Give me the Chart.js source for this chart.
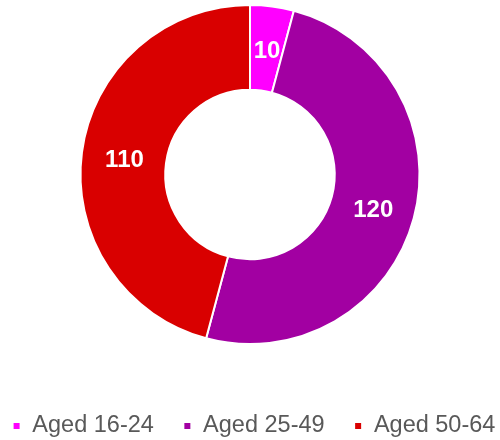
<!DOCTYPE html>
<html>
<head>
<meta charset="utf-8">
<script src="https://cdn.jsdelivr.net/npm/chart.js@4/dist/chart.umd.min.js"></script>
<style>
  html, body { margin: 0; padding: 0; background: #ffffff; }
  #c { display: block; }
</style>
</head>
<body>
<canvas id="c" width="500" height="440"></canvas>
<script>
const categories = ['Aged 16-24', 'Aged 25-49', 'Aged 50-64'];
const values = [10, 120, 110];
const colors = ['#FF00FF', '#A200A2', '#D90000'];

const FONT = "'Liberation Sans', Arial, sans-serif";

const sliceLabels = {
  id: 'sliceLabels',
  afterDatasetsDraw(chart) {
    const ctx = chart.ctx;
    const meta = chart.getDatasetMeta(0);
    ctx.save();
    ctx.fillStyle = '#FFFFFF';
    ctx.font = 'bold 24px ' + FONT;
    ctx.textAlign = 'center';
    ctx.textBaseline = 'middle';
    meta.data.forEach((arc, i) => {
      const p = arc.tooltipPosition();
      ctx.fillText(String(values[i]), p.x + 0.5, p.y + 2.5);
    });
    ctx.restore();
  }
};

const legendShift = {
  id: 'legendShift',
  afterLayout(chart) {
    if (chart.legend) {
      chart.legend.left += 4;
      chart.legend.right += 4;
    }
  }
};

new Chart(document.getElementById('c'), {
  type: 'doughnut',
  data: {
    labels: categories,
    datasets: [{
      data: values,
      backgroundColor: colors,
      borderColor: '#FFFFFF',
      borderWidth: 2,
      hoverOffset: 0,
      radius: 169.5
    }]
  },
  options: {
    responsive: false,
    animation: false,
    cutout: '50%',
    layout: { padding: { top: 5, bottom: -7.75, left: -40, right: -40 } },
    plugins: {
      tooltip: { enabled: false },
      legend: {
        position: 'bottom',
        align: 'center',
        title: {
          display: true,
          text: '',
          padding: 0,
          font: { size: 10, lineHeight: '40.75px' }
        },
        labels: {
          boxWidth: 8,
          boxHeight: 8,
          padding: 29.5,
          color: '#595959',
          font: { family: FONT, size: 23.5 }
        }
      }
    }
  },
  plugins: [sliceLabels, legendShift]
});
</script>
</body>
</html>
